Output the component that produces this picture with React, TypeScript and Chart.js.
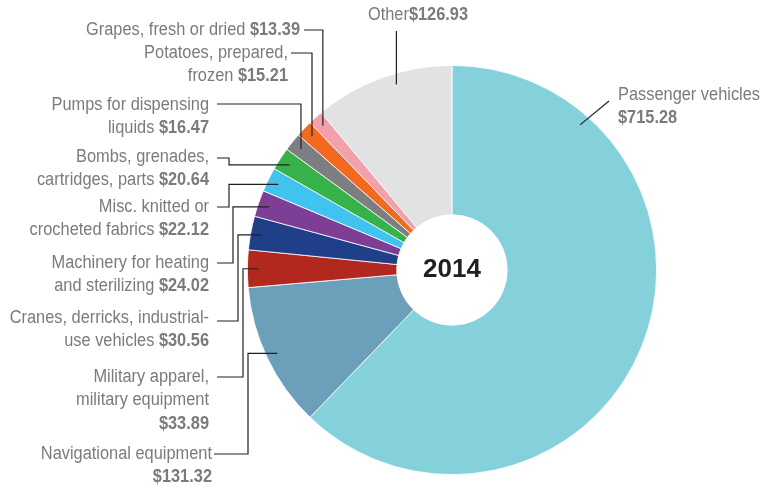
import React, { useEffect, useRef } from "react";
import { Chart, registerables } from "chart.js";

Chart.register(...registerables);

const categories: string[] = [
  "Passenger vehicles\n",
  "Navigational equipment\n",
  "Military apparel,\nmilitary equipment\n",
  "Cranes, derricks, industrial-\nuse vehicles ",
  "Machinery for heating\nand sterilizing ",
  "Misc. knitted or\ncrocheted fabrics ",
  "Bombs, grenades,\ncartridges, parts ",
  "Pumps for dispensing\nliquids ",
  "Potatoes, prepared,\nfrozen ",
  "Grapes, fresh or dried ",
  "Other",
];

const values: number[] = [715.28, 131.32, 33.89, 30.56, 24.02, 22.12, 20.64, 16.47, 15.21, 13.39, 126.93];

const colors: string[] = [
  "#84d1dc",
  "#6b9fba",
  "#b3281e",
  "#1f3f88",
  "#7d3f96",
  "#40c4ef",
  "#37b24a",
  "#7d7e81",
  "#f26a22",
  "#f2a0ab",
  "#e1e2e4",
];

const centerTitle = "2014";

type Spec = {
  x: number;
  y: number;
  align: "left" | "right" | "center";
  mode: "hvh" | "hv" | "v" | "d";
  start: [number, number];
  elbow?: number;
  frac?: number;
};

// layout of labels (positions only)
const layout: Spec[] = [
  { x: 618, y: 95, align: "left", mode: "d", start: [609, 101], frac: 0.185 },
  { x: 212, y: 454, align: "right", mode: "hvh", start: [214, 454], elbow: 248 },
  { x: 209, y: 377, align: "right", mode: "hvh", start: [217, 377], elbow: 243 },
  { x: 209, y: 318, align: "right", mode: "hvh", start: [217, 321], elbow: 238 },
  { x: 209, y: 263, align: "right", mode: "hvh", start: [217, 263], elbow: 233 },
  { x: 209, y: 207, align: "right", mode: "hvh", start: [217, 207], elbow: 229 },
  { x: 209, y: 157, align: "right", mode: "hvh", start: [217, 158], elbow: 229 },
  { x: 209, y: 105, align: "right", mode: "hv", start: [217, 104] },
  { x: 288, y: 53, align: "right", mode: "hv", start: [291, 53] },
  { x: 300, y: 30, align: "right", mode: "hv", start: [304, 30] },
  { x: 418, y: 15, align: "center", mode: "v", start: [0, 31], frac: 0.58 },
];

const FONT = '"Liberation Sans", Arial, sans-serif';
const TEXT_COLOR = "#7a7b7e";
const LINE_H = 23.5;
const SQUEEZE = 0.91;

const labelPlugin = {
  id: "leaderLabels",
  afterDraw(chart: any) {
    const ctx: CanvasRenderingContext2D = chart.ctx;
    const meta = chart.getDatasetMeta(0);
    ctx.save();
    meta.data.forEach((arc: any, i: number) => {
      const spec = layout[i];
      if (!spec) return;
      const p = arc.getProps(["x", "y", "startAngle", "endAngle", "outerRadius"], true);
      const frac = spec.frac ?? 0.5;
      const a = p.startAngle + (p.endAngle - p.startAngle) * frac;
      const r = p.outerRadius - 11;
      const px = p.x + r * Math.cos(a);
      const py = p.y + r * Math.sin(a);

      // leader line
      ctx.strokeStyle = "#231f20";
      ctx.lineWidth = 1.2;
      ctx.beginPath();
      const [sx, sy] = spec.start;
      if (spec.mode === "hvh") {
        ctx.moveTo(sx, sy);
        ctx.lineTo(spec.elbow!, sy);
        ctx.lineTo(spec.elbow!, py);
        ctx.lineTo(px, py);
      } else if (spec.mode === "hv") {
        ctx.moveTo(sx, sy);
        ctx.lineTo(px, sy);
        ctx.lineTo(px, py);
      } else if (spec.mode === "v") {
        ctx.moveTo(px, sy);
        ctx.lineTo(px, py);
      } else {
        ctx.moveTo(sx, sy);
        ctx.lineTo(px, py);
      }
      ctx.stroke();

      // text
      const full = categories[i] + "$" + values[i].toFixed(2);
      const lines = full.split("\n");
      ctx.fillStyle = TEXT_COLOR;
      ctx.textBaseline = "middle";
      ctx.textAlign = "left";
      const normalFont = `18px ${FONT}`;
      const boldFont = `bold 18px ${FONT}`;
      lines.forEach((line, li) => {
        const y = spec.y + li * LINE_H;
        const isLast = li === lines.length - 1;
        let normal = line;
        let bold = "";
        if (isLast) {
          const k = line.indexOf("$");
          normal = line.slice(0, k);
          bold = line.slice(k);
        }
        ctx.font = normalFont;
        const wn = ctx.measureText(normal).width;
        ctx.font = boldFont;
        const wb = ctx.measureText(bold).width;
        const total = (wn + wb) * SQUEEZE;
        let left = spec.x;
        if (spec.align === "right") left = spec.x - total;
        else if (spec.align === "center") left = spec.x - total / 2;
        ctx.save();
        ctx.translate(left, y);
        ctx.scale(SQUEEZE, 1);
        ctx.font = normalFont;
        ctx.fillText(normal, 0, 0);
        ctx.font = boldFont;
        ctx.fillText(bold, wn, 0);
        ctx.restore();
      });
    });

    // center title
    const a0 = meta.data[0];
    if (a0) {
      ctx.fillStyle = "#231f20";
      ctx.font = 'bold 26px "Liberation Sans", Arial, sans-serif';
      ctx.textAlign = "center";
      ctx.textBaseline = "middle";
      ctx.fillText(centerTitle, a0.x, a0.y);
    }
    ctx.restore();
  },
};

export default function App() {
  const ref = useRef<HTMLCanvasElement | null>(null);
  useEffect(() => {
    if (!ref.current) return;
    const chart = new Chart(ref.current, {
      type: "doughnut",
      data: {
        labels: categories.map((c) => c.replace(/\n/g, " ").trim()),
        datasets: [
          {
            data: values,
            backgroundColor: colors,
            borderColor: "#ffffff",
            borderWidth: 0.8,
          },
        ],
      },
      options: {
        responsive: false,
        animation: false,
        cutout: "27%",
        layout: { padding: { left: 247, right: 105, top: 65, bottom: 18 } },
        plugins: { legend: { display: false }, tooltip: { enabled: false } },
      },
      plugins: [labelPlugin],
    });
    return () => chart.destroy();
  }, []);
  return (
    <div style={{ position: "fixed", left: 0, top: 0, width: 762, height: 493, background: "#fff" }}>
      <canvas ref={ref} width={762} height={493} style={{ width: 762, height: 493, display: "block" }} />
    </div>
  );
}
